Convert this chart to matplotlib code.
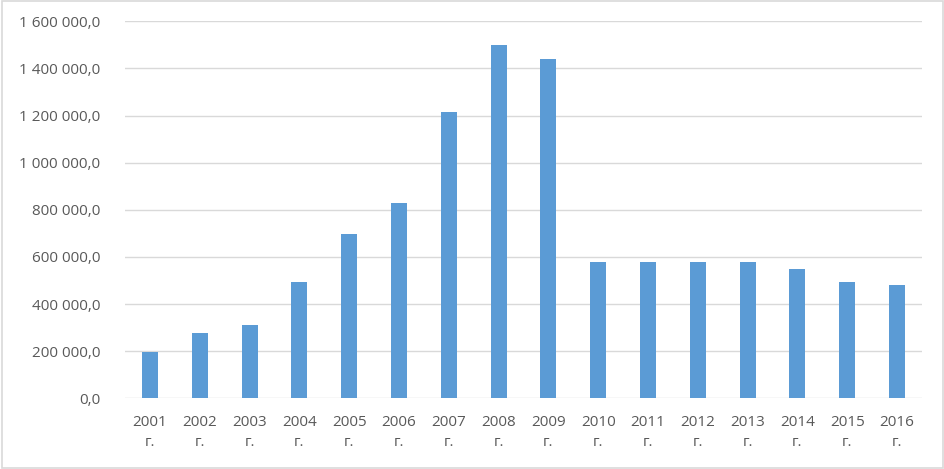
import matplotlib
matplotlib.use("Agg")
import matplotlib.pyplot as plt
from matplotlib.patches import Rectangle
from matplotlib.ticker import FuncFormatter, MultipleLocator

years = ["2001", "2002", "2003", "2004", "2005", "2006", "2007", "2008",
         "2009", "2010", "2011", "2012", "2013", "2014", "2015", "2016"]
values = [196000, 277000, 310000, 495000, 698000, 827000, 1216000, 1499000,
          1440000, 577000, 577000, 577000, 577000, 549000, 492000, 479000]
labels = [y + "\nг." for y in years]

plt.rcParams['font.family'] = ['Open Sans', 'DejaVu Sans']

fig = plt.figure(figsize=(9.44, 4.69), dpi=100)
ax = fig.add_axes([125/944, 1-398.3/469, (922-125)/944, (398.3-21.3)/469])

x = list(range(len(years)))
ax.bar(x, values, width=0.32, color="#5B9BD5", zorder=3)
ax.set_xlim(-0.5, len(years)-0.5)
ax.set_ylim(0, 1600000)
ax.yaxis.set_major_locator(MultipleLocator(200000))

def fmt(v, pos):
    s = f"{v:,.1f}".replace(",", " ").replace(".", ",")
    return s
ax.yaxis.set_major_formatter(FuncFormatter(fmt))
ax.grid(axis="y", color="#D9D9D9", linewidth=1, zorder=0)
ax.set_xticks(x)
ax.set_xticklabels(labels, linespacing=1.45)
for s in ax.spines.values():
    s.set_visible(False)
ax.tick_params(axis="both", length=0, colors="#595959", labelsize=11)
ax.tick_params(axis="y", pad=18)
ax.tick_params(axis="x", pad=12)

fig.patches.append(Rectangle((1.5/944, 1.5/469), 941/944, 466/469, transform=fig.transFigure,
                             fill=False, edgecolor="#D9D9D9", linewidth=1.2))
fig.savefig("out.png", dpi=100)
